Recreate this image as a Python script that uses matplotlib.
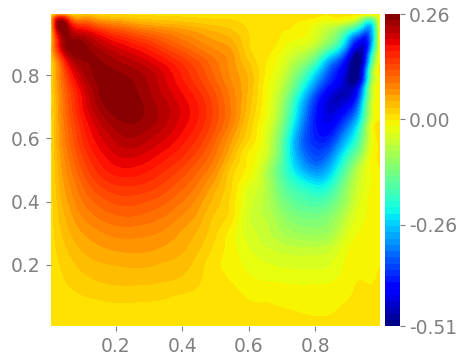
import numpy as np
import matplotlib
matplotlib.use("Agg")
import matplotlib.pyplot as plt
import matplotlib.tri as mtri

x_pos = [.005,.03,.06,.1,.15,.2,.25,.3,.35,.4,.45,.5,.55,.6,.65,.7,.75,.8,.85,.9,.94,.97,.995]
y_pos = [.005,.05,.1,.15,.2,.25,.3,.35,.4,.45,.5,.55,.6,.65,.7,.75,.8,.85,.9,.95,.98,.995]

r005 = [.006]*23
r050 = [.006,.007,.007,.008,.009,.01,.01,.01,.01,.009,.008,.007,.005,.002,.001,.0,-.002,-.005,-.003,.002,.004,.005,.006]
r100 = [.006,.008,.01,.013,.016,.018,.018,.017,.015,.012,.01,.008,.004,-.004,-.005,-.008,-.011,-.012,-.008,-.003,.002,.002,.004]
r150 = [.006,.01,.016,.023,.03,.033,.034,.033,.03,.025,.015,.006,-.004,-.014,-.018,-.02,-.021,-.021,-.019,-.008,-.002,-.003,.002]
r200 = [.006,.013,.023,.034,.042,.045,.047,.046,.042,.036,.02,.002,-.01,-.022,-.031,-.036,-.038,-.038,-.032,-.012,-.006,-.005,-.002]
r250 = [.006,.018,.032,.046,.056,.062,.064,.062,.056,.047,.03,.008,-.012,-.032,-.046,-.055,-.06,-.06,-.05,-.018,-.01,-.008,-.002]
r300 = [.006,.024,.042,.059,.072,.08,.081,.078,.07,.057,.04,.016,-.012,-.04,-.058,-.08,-.095,-.1,-.085,-.035,-.015,-.01,-.003]
r350 = [.006,.03,.052,.074,.092,.102,.104,.098,.088,.072,.052,.025,.002,-.045,-.065,-.1,-.125,-.13,-.11,-.055,-.022,-.012,-.003]
r400 = [.006,.036,.062,.09,.112,.125,.127,.12,.108,.09,.066,.036,.006,-.04,-.07,-.125,-.16,-.175,-.15,-.08,-.03,-.012,-.003]
r450 = [.006,.042,.072,.105,.135,.15,.152,.145,.13,.11,.085,.05,.012,-.03,-.07,-.15,-.2,-.23,-.2,-.1,-.04,-.015,-.003]
r500 = [.006,.048,.083,.122,.157,.176,.178,.168,.152,.132,.105,.07,.02,-.01,-.07,-.17,-.26,-.31,-.26,-.14,-.05,-.015,-.003]
r550 = [.006,.054,.094,.138,.175,.198,.203,.192,.175,.155,.128,.09,.04,-.005,-.045,-.16,-.3,-.36,-.32,-.2,-.1,-.02,.0]
r600 = [.006,.06,.105,.153,.192,.218,.228,.215,.198,.175,.148,.108,.06,.015,-.035,-.15,-.31,-.39,-.38,-.27,-.15,-.03,.0]
r650 = [.006,.062,.113,.165,.21,.238,.245,.235,.215,.19,.163,.125,.08,.025,-.025,-.12,-.28,-.4,-.43,-.34,-.2,-.04,.0]
r700 = [.006,.066,.122,.18,.232,.256,.255,.238,.218,.193,.166,.128,.085,.035,-.015,-.1,-.25,-.39,-.46,-.42,-.26,-.055,-.005]
r750 = [.006,.07,.13,.19,.245,.262,.25,.23,.205,.18,.152,.118,.08,.04,-.01,-.075,-.2,-.34,-.44,-.47,-.33,-.075,-.005]
r800 = [.008,.08,.155,.22,.25,.25,.24,.222,.195,.165,.135,.102,.07,.04,-.005,-.05,-.14,-.26,-.38,-.49,-.44,-.12,-.01]
r850 = [.012,.105,.205,.245,.245,.228,.212,.192,.168,.142,.116,.09,.065,.025,.0,-.03,-.08,-.16,-.3,-.45,-.49,-.2,-.01]
r900 = [.016,.18,.255,.25,.215,.188,.168,.147,.122,.1,.08,.065,.05,.015,.005,-.01,-.03,-.06,-.14,-.32,-.45,-.3,-.01]
r950 = [.016,.25,.22,.17,.135,.11,.09,.075,.065,.055,.045,.035,.025,.012,.008,.0,-.005,-.03,-.07,-.15,-.26,-.28,-.01]
r980 = [.016,.2,.12,.07,.05,.04,.03,.025,.02,.018,.015,.013,.012,.01,.01,.005,.0,-.005,-.01,-.02,-.1,-.15,-.005]
r995 = [.006,.03,.02,.015,.012,.01,.008,.008,.008,.008,.008,.008,.008,.008,.008,.008,.006,.005,.003,.0,-.005,-.005,.0]

field_rows = [r005,r050,r100,r150,r200,r250,r300,r350,r400,r450,r500,r550,r600,r650,r700,r750,r800,r850,r900,r950,r980,r995]

xticks = [0.2,0.4,0.6,0.8]
yticks = [0.2,0.4,0.6,0.8]
cbar_ticks = [-0.51,-0.26,0.00,0.26]
cbar_labels = ["-0.51","-0.26","0.00","0.26"]

W,H = 467,360
GREY = "#808080"
fig = plt.figure(figsize=(W/100,H/100),dpi=100)
ax = fig.add_axes([51/W,(H-326)/H,329/W,312/H])
cax = fig.add_axes([385/W,(H-326)/H,15/W,312/H])

levels = np.linspace(-0.51,0.26,51)
gx,gy = np.meshgrid(x_pos,y_pos)
tri = mtri.Triangulation(gx.ravel(),gy.ravel())
refiner = mtri.UniformTriRefiner(tri)
tri_fine,z_fine = refiner.refine_field(np.array(field_rows).ravel(),subdiv=3)
z_fine = np.clip(z_fine,-0.5099,0.2599)
cf = ax.tricontourf(tri_fine,z_fine,levels=levels,cmap="jet")
ax.set_xlim(.005,.995)
ax.set_ylim(.005,.995)
ax.set_xticks(xticks)
ax.set_yticks(yticks)
ax.set_xticklabels([f"{v:.1f}" for v in xticks])
ax.set_yticklabels([f"{v:.1f}" for v in yticks])
ax.tick_params(colors=GREY,labelsize=13.5,length=3.6,width=0.8,pad=4)
for s in ax.spines.values():
    s.set_visible(False)

cb = fig.colorbar(cf,cax=cax)
cb.set_ticks(cbar_ticks)
cb.set_ticklabels(cbar_labels)
cb.ax.tick_params(colors=GREY,labelsize=13.5,length=3.6,width=0.8,pad=3)
cb.outline.set_visible(False)
cb.ax.minorticks_off()
fig.savefig("out.png",dpi=100)
